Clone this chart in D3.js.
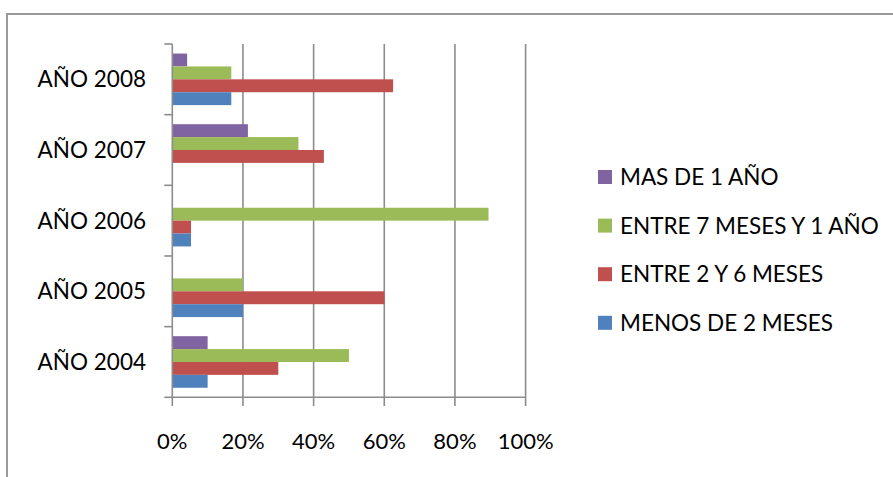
<!DOCTYPE html>
<html>
<head>
<meta charset="utf-8">
<script src="https://cdn.jsdelivr.net/npm/d3@7"></script>
<style>
  body { margin: 0; background: #fff; }
  text { font-family: Lato, "Open Sans", sans-serif; fill: #000; }
</style>
</head>
<body>
<div id="chart"></div>
<script>
// data (share of cases per year)
var years = ["AÑO 2004", "AÑO 2005", "AÑO 2006", "AÑO 2007", "AÑO 2008"]
var seriesNames = ["MAS DE 1 AÑO", "ENTRE 7 MESES Y 1 AÑO", "ENTRE 2 Y 6 MESES", "MENOS DE 2 MESES"]
var masDe1 = [0.10, 0, 0, 0.214, 0.042]
var entre7y1 = [0.50, 0.20, 0.895, 0.357, 0.167]
var entre2y6 = [0.30, 0.60, 0.053, 0.429, 0.625]
var menosDe2 = [0.10, 0.20, 0.053, 0, 0.167]
var xTicks = [0, 0.2, 0.4, 0.6, 0.8, 1]
var colors = ["#8064A2", "#9BBB59", "#C0504D", "#4F81BD"]

var seriesValues = [masDe1, entre7y1, entre2y6, menosDe2]

var width = 893, height = 477
var margin = { top: 44, left: 172, right: 367, bottom: 80 }

var svg = d3.select("#chart")
    .append("svg")
    .attr("width", width)
    .attr("height", height)

// chart area border (runs off the right and bottom of the picture)
svg.append("rect")
    .attr("x", 7).attr("y", 14)
    .attr("width", 1000).attr("height", 1000)
    .attr("fill", "none")
    .attr("stroke", "#9a9a9a")
    .attr("stroke-width", 2)

var x = d3.scaleLinear()
    .domain([0, 1])
    .range([172.3, 525.6])

var y = d3.scaleBand()
    .domain(years.slice().reverse())
    .range([44, 397.3])
    .padding(0)

var inner = d3.scaleBand()
    .domain(seriesNames)
    .range([0, y.bandwidth()])
    .paddingInner(0)
    .paddingOuter(0.74)

// vertical gridlines
svg.append("g")
    .selectAll("line")
    .data(xTicks.slice(1))
    .enter()
    .append("line")
    .attr("x1", function (d) { return x(d) })
    .attr("x2", function (d) { return x(d) })
    .attr("y1", 44)
    .attr("y2", 397.3)
    .attr("stroke", "#8c8c8c")
    .attr("stroke-width", 1.6)

// bars
var flat = []
years.forEach(function (yr, i) {
    seriesNames.forEach(function (s, j) {
        flat.push({ year: yr, series: s, value: seriesValues[j][i], color: colors[j] })
    })
})

svg.append("g")
    .selectAll("rect")
    .data(flat.filter(function (d) { return d.value > 0 }))
    .enter()
    .append("rect")
    .attr("x", x(0))
    .attr("y", function (d) { return y(d.year) + inner(d.series) })
    .attr("width", function (d) { return x(d.value) - x(0) })
    .attr("height", inner.bandwidth())
    .attr("fill", function (d) { return d.color })

// y axis: line + ticks at band boundaries
var yAxis = svg.append("g")
yAxis.append("line")
    .attr("x1", x(0)).attr("x2", x(0))
    .attr("y1", 44).attr("y2", 397.3)
    .attr("stroke", "#8c8c8c").attr("stroke-width", 1.6)
var bounds = years.map(function (d) { return y(d) }).concat([397.3])
yAxis.selectAll("line.tick")
    .data(bounds)
    .enter()
    .append("line")
    .attr("class", "tick")
    .attr("x1", x(0) - 8).attr("x2", x(0))
    .attr("y1", function (d) { return d })
    .attr("y2", function (d) { return d })
    .attr("stroke", "#8c8c8c").attr("stroke-width", 1.6)
yAxis.selectAll("text")
    .data(years)
    .enter()
    .append("text")
    .attr("x", 146)
    .attr("y", function (d) { return y(d) + y.bandwidth() / 2 + 8 })
    .attr("text-anchor", "end")
    .style("font-size", "22.5px")
    .text(function (d) { return d })

// x axis
var xAxis = svg.append("g")
xAxis.append("line")
    .attr("x1", x(0)).attr("x2", x(1))
    .attr("y1", 397.3).attr("y2", 397.3)
    .attr("stroke", "#8c8c8c").attr("stroke-width", 1.6)
xAxis.selectAll("line.tick")
    .data(xTicks)
    .enter()
    .append("line")
    .attr("class", "tick")
    .attr("x1", function (d) { return x(d) })
    .attr("x2", function (d) { return x(d) })
    .attr("y1", 397.3).attr("y2", 406)
    .attr("stroke", "#8c8c8c").attr("stroke-width", 1.6)
xAxis.selectAll("text")
    .data(xTicks)
    .enter()
    .append("text")
    .attr("x", function (d) { return x(d) })
    .attr("y", 449)
    .attr("text-anchor", "middle")
    .style("font-size", "22px")
    .text(d3.format(".0%"))

// legend
var legend = svg.append("g")
    .selectAll("g")
    .data(seriesNames)
    .enter()
    .append("g")
    .attr("transform", function (d, i) { return "translate(598," + (177 + i * 48.6) + ")" })
legend.append("rect")
    .attr("x", 0).attr("y", -7)
    .attr("width", 14).attr("height", 14)
    .attr("fill", function (d, i) { return colors[i] })
legend.append("text")
    .attr("x", 22).attr("y", 8)
    .style("font-size", "22.5px")
    .text(function (d) { return d })
</script>
</body>
</html>
